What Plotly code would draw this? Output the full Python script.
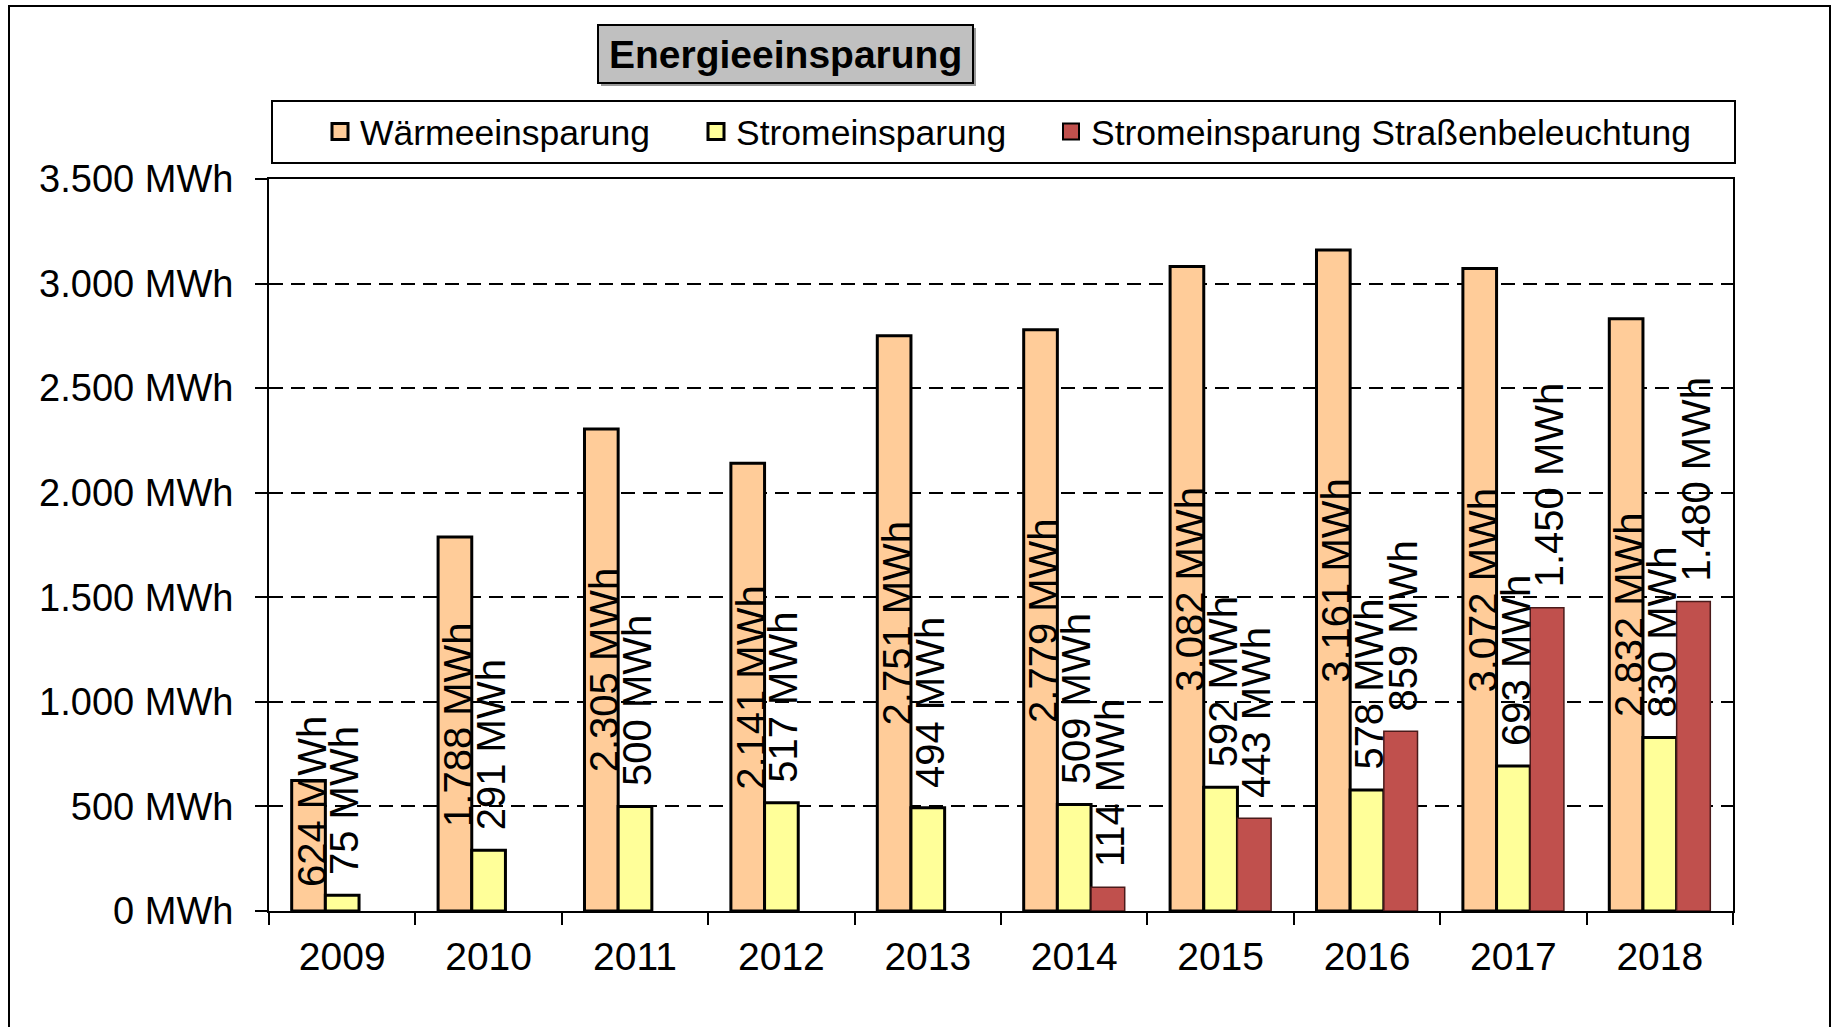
import plotly.graph_objects as go

# ---- data ----
years = ["2009", "2010", "2011", "2012", "2013", "2014", "2015", "2016", "2017", "2018"]
waerme = [624, 1788, 2305, 2141, 2751, 2779, 3082, 3161, 3072, 2832]
strom = [75, 291, 500, 517, 494, 509, 592, 578, 693, 830]
strasse = [None, None, None, None, None, 114, 443, 859, 1450, 1480]
series_names = ["Wärmeeinsparung", "Stromeinsparung", "Stromeinsparung Straßenbeleuchtung"]
y_tickvals = [0, 500, 1000, 1500, 2000, 2500, 3000, 3500]
y_ticktext = ["0 MWh", "500 MWh", "1.000 MWh", "1.500 MWh", "2.000 MWh", "2.500 MWh", "3.000 MWh", "3.500 MWh"]
title_text = "Energieeinsparung"

FONT = "Arial, Liberation Sans, sans-serif"
W, H = 1834, 1027
L, T = 269, 179
plot_w, plot_h = 1464, 732
R = W - L - plot_w
B = H - T - plot_h


def px_x(px):
    return (px - L) / plot_w


def px_y(py):
    return (T + plot_h - py) / plot_h


def fmt(v):
    return f"{v:,}".replace(",", ".") + " MWh"


colors = ["#FFCC99", "#FFFF99", "#C0504D"]
line_colors = ["#000000", "#000000", "#4a1a1a"]
line_widths = [3, 3, 1.5]

fig = go.Figure()
for name, vals, c, lc, lw in zip(series_names, [waerme, strom, strasse], colors, line_colors, line_widths):
    fig.add_trace(go.Bar(
        x=years, y=vals, name=name, showlegend=False,
        marker=dict(color=c, line=dict(color=lc, width=lw)),
        hoverinfo="skip",
    ))

# legend entries (one legend per entry so they can be spaced like the original)
legend_ids = ["legend", "legend2", "legend3"]
legend_left_px = [320, 696, 1051]
for name, c, lid in zip(series_names, colors, legend_ids):
    fig.add_trace(go.Scatter(
        x=[None], y=[None], mode="markers", name=name, legend=lid, showlegend=True,
        marker=dict(symbol="square", size=17, color=c, line=dict(color="#000", width=3 if c != "#C0504D" else 2)),
        hoverinfo="skip",
    ))

bargap = 0.31
bw = (1 - bargap) / 3

LBL = 40
annotations = []
for i, v in enumerate(waerme):
    if v / 2 < 500:
        annotations.append(dict(x=i - bw, y=0, xref="x", yref="y", text=fmt(v), textangle=-90,
                                showarrow=False, yanchor="bottom", yshift=22, xshift=3,
                                font=dict(family=FONT, size=LBL, color="#000")))
    else:
        annotations.append(dict(x=i - bw, y=v / 2, xref="x", yref="y", text=fmt(v), textangle=-90,
                                showarrow=False, yanchor="middle", xshift=3,
                                font=dict(family=FONT, size=LBL, color="#000")))
for off, vals in [(0, strom), (bw, strasse)]:
    for i, v in enumerate(vals):
        if v is None:
            continue
        annotations.append(dict(x=i + off, y=v, xref="x", yref="y", text=fmt(v), textangle=-90,
                                showarrow=False, yanchor="bottom", yshift=18, xshift=2,
                                font=dict(family=FONT, size=LBL, color="#000")))

# title text
annotations.append(dict(x=(px_x(598) + px_x(973)) / 2, y=(px_y(25) + px_y(83)) / 2, xref="paper", yref="paper",
                        text="<b>" + title_text + "</b>", showarrow=False, xanchor="center", yanchor="middle",
                        font=dict(family=FONT, size=39, color="#000")))

shapes = [
    # outer frame
    dict(type="rect", xref="paper", yref="paper", x0=px_x(9), x1=px_x(1830), y0=px_y(1040), y1=px_y(6),
         line=dict(color="#000", width=2), fillcolor="rgba(0,0,0,0)", layer="below"),
    # title box shadow
    dict(type="rect", xref="paper", yref="paper", x0=px_x(601), x1=px_x(976), y0=px_y(86), y1=px_y(28),
         line=dict(width=0), fillcolor="#9a9a9a", layer="below"),
    # title box
    dict(type="rect", xref="paper", yref="paper", x0=px_x(598), x1=px_x(973), y0=px_y(83), y1=px_y(25),
         line=dict(color="#000", width=2), fillcolor="#C0C0C0", layer="below"),
    # legend box
    dict(type="rect", xref="paper", yref="paper", x0=px_x(272), x1=px_x(1735), y0=px_y(163), y1=px_y(101),
         line=dict(color="#000", width=2), fillcolor="#fff", layer="below"),
]

legend_common = dict(orientation="h", yanchor="middle", xanchor="left", bgcolor="rgba(0,0,0,0)", borderwidth=0,
                     font=dict(family=FONT, size=35.5, color="#000"), itemclick=False, itemdoubleclick=False)
layout_legends = {}
for lid, lx in zip(legend_ids, legend_left_px):
    layout_legends[lid] = dict(legend_common, x=px_x(lx), y=px_y(132))

fig.update_layout(
    width=W, height=H,
    margin=dict(l=L, r=R, t=T, b=B, autoexpand=False),
    paper_bgcolor="#fff", plot_bgcolor="#fff",
    barmode="group", bargap=bargap, bargroupgap=0,
    font=dict(family=FONT, size=36, color="#000"),
    showlegend=True,
    annotations=annotations,
    shapes=shapes,
    **layout_legends,
)
fig.update_xaxes(type="category", showline=True, linecolor="#000", linewidth=2, mirror=True,
                 ticks="outside", tickson="boundaries", ticklen=12, tickwidth=2, tickcolor="#000",
                 showgrid=False, tickfont=dict(family=FONT, size=39, color="#000"), ticklabelstandoff=10,
                 fixedrange=True)
fig.update_yaxes(range=[0, 3500], tickvals=y_tickvals, ticktext=y_ticktext, showline=True, linecolor="#000",
                 linewidth=2, mirror=True, ticks="outside", ticklen=12, tickwidth=2, tickcolor="#000",
                 showgrid=True, gridcolor="#000", gridwidth=2, griddash="14px,8px", zeroline=False,
                 tickfont=dict(family=FONT, size=38, color="#000"), ticklabelstandoff=14, fixedrange=True)

fig.write_html("out.html", config={"displayModeBar": False},
               post_script="document.body.style.margin='0';document.body.style.overflow='hidden';"
                           "document.documentElement.style.overflow='hidden';")
